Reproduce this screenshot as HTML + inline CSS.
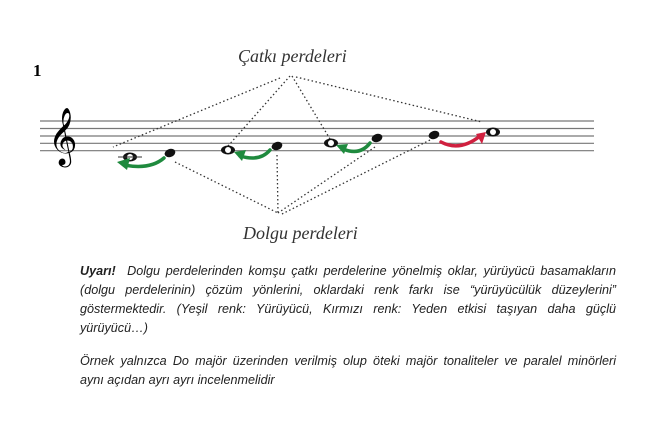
<!DOCTYPE html>
<html><head><meta charset="utf-8"><style>
body{margin:0;background:#fff;width:660px;height:431px;overflow:hidden;position:relative}
.t{position:absolute;left:80px;width:536px;font-family:"Liberation Sans",sans-serif;font-style:italic;font-size:12.6px;color:#222;text-align:justify;text-align-last:justify;white-space:nowrap;line-height:14px}
.n{text-align-last:left}
</style></head><body>
<svg width="660" height="431" style="position:absolute;left:0;top:0">
<g stroke="#777" stroke-width="1.2">
<line x1="40" y1="121" x2="594" y2="121"/><line x1="40" y1="128.5" x2="594" y2="128.5"/>
<line x1="40" y1="136" x2="594" y2="136"/><line x1="40" y1="143.3" x2="594" y2="143.3"/>
<line x1="40" y1="150.7" x2="594" y2="150.7"/>
</g>
<text x="33" y="76" font-family="Liberation Serif" font-weight="bold" font-size="17">1</text>
<text x="48" y="153" font-family="DejaVu Serif,serif" font-size="50">𝄞</text>
<text x="238" y="62" font-family="Liberation Serif" font-style="italic" font-size="18" fill="#333">Çatkı perdeleri</text>
<text x="243" y="239" font-family="Liberation Serif" font-style="italic" font-size="18" fill="#333">Dolgu perdeleri</text>
<g stroke="#333" stroke-width="1.3" stroke-dasharray="1.5 2.5" fill="none">
<line x1="280" y1="78" x2="113" y2="147"/>
<line x1="290" y1="76" x2="228" y2="146"/>
<line x1="292" y1="76" x2="330" y2="139"/>
<line x1="296" y1="77" x2="482" y2="122"/>
<line x1="175" y1="162" x2="278" y2="213"/>
<line x1="277" y1="155" x2="278" y2="213"/>
<line x1="375" y1="147" x2="278" y2="213"/>
<line x1="430" y1="140" x2="282" y2="214"/>
</g>
<g fill="#111">
<ellipse cx="130" cy="157" rx="7" ry="4.5"/><ellipse cx="130" cy="157" rx="3" ry="3" fill="#fff"/>
<line x1="118" y1="157" x2="142" y2="157" stroke="#333" stroke-width="1"/>
<ellipse cx="170" cy="153" rx="5.5" ry="4" transform="rotate(-20 170 153)"/>
<ellipse cx="228" cy="150" rx="7" ry="4.5"/><ellipse cx="228" cy="150" rx="3" ry="3" fill="#fff"/>
<ellipse cx="277" cy="146" rx="5.5" ry="4" transform="rotate(-20 277 146)"/>
<ellipse cx="331" cy="143" rx="7" ry="4.5"/><ellipse cx="331" cy="143" rx="3" ry="3" fill="#fff"/>
<ellipse cx="377" cy="138" rx="5.5" ry="4" transform="rotate(-20 377 138)"/>
<ellipse cx="434" cy="135" rx="5.5" ry="4" transform="rotate(-20 434 135)"/>
<ellipse cx="493" cy="132" rx="7" ry="4.5"/><ellipse cx="493" cy="132" rx="3" ry="3" fill="#fff"/>
</g>
<g fill="none" stroke-width="3.5" stroke-linecap="round">
<path d="M164 158 Q150 170 124 165" stroke="#1f8a3e"/>
<path d="M270 150 Q260 162 240 156" stroke="#1f8a3e"/>
<path d="M370 143 Q360 156 343 149" stroke="#1f8a3e"/>
<path d="M441 142 Q460 152 480 136" stroke="#d0203f"/>
</g>
<polygon points="117,162 130,158 127,170" fill="#1f8a3e"/>
<polygon points="234,152 246,150 242,161" fill="#1f8a3e"/>
<polygon points="336,145 348,144 344,154" fill="#1f8a3e"/>
<polygon points="486,132 476,134 482,144" fill="#d0203f"/>
</svg>
<div class="t" style="top:264px"><b>Uyarı!</b>&nbsp; Dolgu perdelerinden komşu çatkı perdelerine yönelmiş oklar, yürüyücü basamakların</div>
<div class="t" style="top:283px">(dolgu perdelerinin) çözüm yönlerini, oklardaki renk farkı ise “yürüyücülük düzeylerini”</div>
<div class="t" style="top:302px">göstermektedir. (Yeşil renk: Yürüyücü, Kırmızı renk: Yeden etkisi taşıyan daha güçlü</div>
<div class="t n" style="top:321px">yürüyücü…)</div>
<div class="t" style="top:354px">Örnek yalnızca Do majör üzerinden verilmiş olup öteki majör tonaliteler ve paralel minörleri</div>
<div class="t n" style="top:373px">aynı açıdan ayrı ayrı incelenmelidir</div>
</body></html>
